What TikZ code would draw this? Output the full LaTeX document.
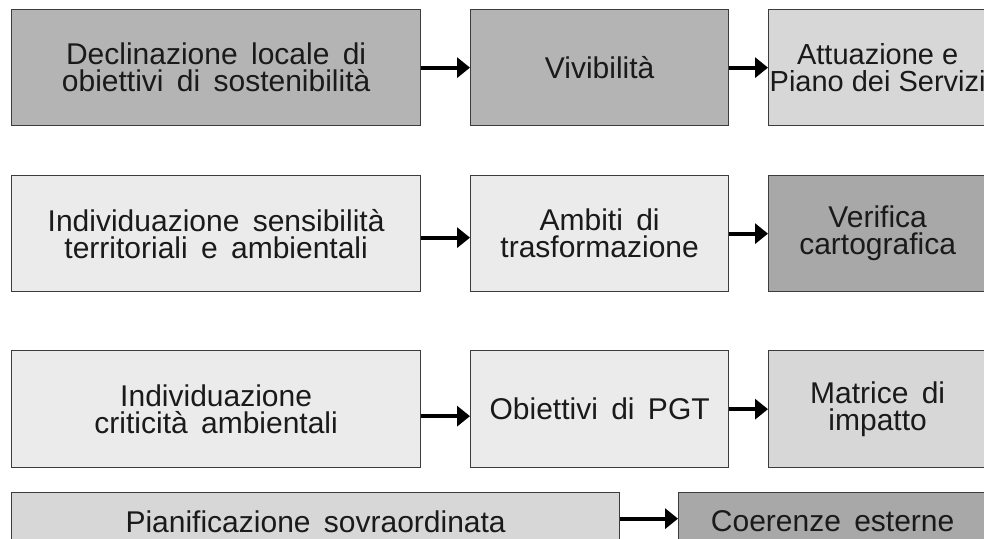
\documentclass[tikz,border=0pt]{standalone}
\usepackage{fontspec}
\setmainfont[WordSpace=1.6]{Liberation Sans}
\newfontfamily\plainsans{Liberation Sans}
\usetikzlibrary{arrows.meta}
\definecolor{fdark}{HTML}{B4B4B4}
\definecolor{flight}{HTML}{EBEBEB}
\definecolor{fmid}{HTML}{D7D7D7}
\definecolor{fdeep}{HTML}{A8A8A8}
\definecolor{edge}{HTML}{3C3C3C}
\definecolor{ink}{HTML}{1A1A1A}
\tikzset{
  box/.style={draw=edge, line width=1.3pt, rectangle, inner sep=0pt, anchor=north west,
    align=center, text=ink, font=\fontsize{30}{27}\selectfont},
  arr/.style={line width=4pt, -{Triangle[length=13pt,width=20pt]}, draw=black}
}
\begin{document}
\begin{tikzpicture}[x=1pt,y=-1pt]
\useasboundingbox (0,0) rectangle (984,538);
\fill[white] (0,0) rectangle (984,538);
\clip (0,0) rectangle (984,538);
% row 1
\node[box, fill=fdark, minimum width=409pt, minimum height=116pt] (a1) at (11,9) {Declinazione locale di\\obiettivi di sostenibilità};
\node[box, fill=fdark, minimum width=258pt, minimum height=116pt] (b1) at (470,9) {Vivibilità};
\node[box, fill=fmid, minimum width=218pt, minimum height=116pt, font=\plainsans\fontsize{29}{27}\selectfont] (c1) at (768,9) {Attuazione e\\Piano dei Servizi};
% row 2
\node[box, fill=flight, minimum width=409pt, minimum height=116pt] (a2) at (11,175) {Individuazione sensibilità\\territoriali e ambientali};
\node[box, fill=flight, minimum width=258pt, minimum height=116pt] (b2) at (470,175) {Ambiti di\\trasformazione};
\node[box, fill=fdeep, minimum width=218pt, minimum height=116pt] (c2) at (768,175) {Verifica\\cartografica};
% row 3
\node[box, fill=flight, minimum width=409pt, minimum height=117pt] (a3) at (11,350) {Individuazione\\criticità ambientali};
\node[box, fill=flight, minimum width=258pt, minimum height=117pt] (b3) at (470,350) {Obiettivi di PGT};
\node[box, fill=fmid, minimum width=218pt, minimum height=117pt] (c3) at (768,350) {Matrice di\\impatto};
% row 4
\node[box, fill=fmid, minimum width=608pt, minimum height=58pt] (a4) at (11,492) {Pianificazione sovraordinata};
\node[box, fill=fdeep, minimum width=308pt, minimum height=58pt] (b4) at (678,492) {Coerenze esterne};
% arrows
\draw[arr] (a1.east) -- (b1.west);
\draw[arr] (b1.east) -- (c1.west);
\draw[arr] ([yshift=-4pt]a2.east) -- ([yshift=-4pt]b2.west);
\draw[arr] (b2.east) -- (c2.west);
\draw[arr] ([yshift=-7pt]a3.east) -- ([yshift=-7pt]b3.west);
\draw[arr] (b3.east) -- (c3.west);
\draw[arr] ([yshift=3pt]a4.east) -- ([yshift=3pt]b4.west);
\end{tikzpicture}
\end{document}
